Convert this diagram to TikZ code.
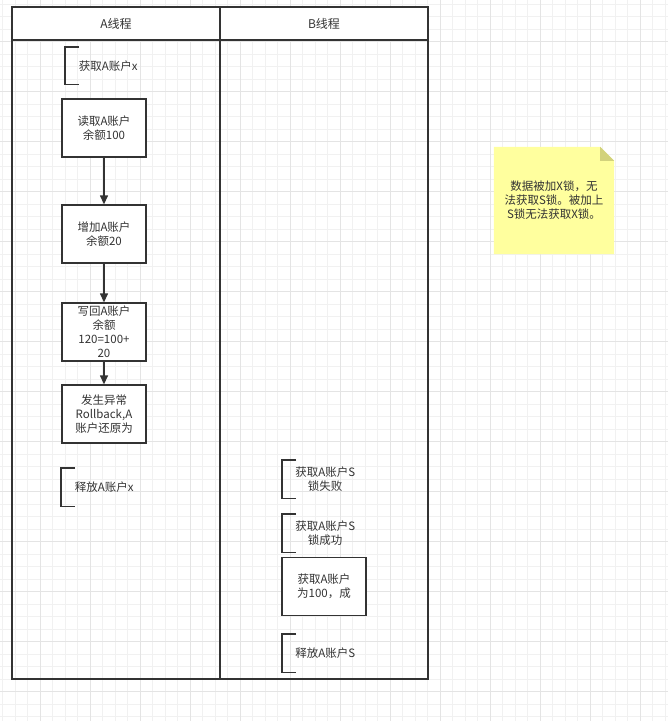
\documentclass[tikz,border=0pt]{standalone}
\usepackage{fontspec}
\setmainfont{Noto Sans CJK SC}
\usetikzlibrary{arrows.meta}
\definecolor{ink}{HTML}{333333}
\definecolor{gridminor}{HTML}{F1F1F1}
\definecolor{gridmajor}{HTML}{E4E4E4}
\definecolor{notefill}{HTML}{FFFF9E}
\definecolor{notefold}{HTML}{D2D27C}
\begin{document}
\begin{tikzpicture}[x=1pt, y=-1pt,
        every node/.style={text=ink, font=\fontsize{11.5}{14}\selectfont, align=center, inner sep=0pt},
        lanehead/.style={draw=ink, line width=1.3pt, fill=white, minimum width=208pt, minimum height=33pt, font=\fontsize{12}{14}\selectfont},
        lanebody/.style={draw=ink, line width=1.3pt, minimum width=208pt, minimum height=639pt},
        taskbox/.style={draw=ink, line width=1.3pt, fill=white, minimum width=84pt, minimum height=58pt},
        bracket/.style={anchor=north west, minimum width=86pt, minimum height=38pt},
        bracketline/.style={draw=ink, line width=1.3pt},
        flow/.style={draw=ink, line width=1.3pt, -{Triangle[length=9pt, width=8pt]}}]
    \useasboundingbox (0, 0) rectangle (668, 721);

    % background grid
    \begin{scope}
        \clip (0, 0) rectangle (668, 721);
        \foreach \x in {0, ..., 53}
            \draw[gridminor, line width=1pt] ({2.5 + 12.5*\x}, 0) -- ++(0, 721);
        \foreach \y in {0, ..., 57}
            \draw[gridminor, line width=1pt] (0, {4.2 + 12.5*\y}) -- ++(668, 0);
        \foreach \x in {0, ..., 12}
            \draw[gridmajor, line width=1pt] ({40 + 50*\x}, 0) -- ++(0, 721);
        \foreach \y in {0, ..., 13}
            \draw[gridmajor, line width=1pt] (0, {41.7 + 50*\y}) -- ++(668, 0);
    \end{scope}

    % lanes
    \node[lanebody] (laneA) at (116, 359.5) {};
    \node[lanebody] (laneB) at (324, 359.5) {};
    \node[lanehead] (headA) at (116, 23.5) {A线程};
    \node[lanehead] (headB) at (324, 23.5) {B线程};

    % A thread
    \node[bracket, minimum height=37pt] (getx) at (65, 47) {获取A账户x};
    \node[taskbox] (read) at (104, 128) {读取A账户\\余额100};
    \node[taskbox] (add) at (104, 234) {增加A账户\\余额20};
    \node[taskbox] (write) at (104, 332) {写回A账户\\余额\\120=100+\\20};
    \node[taskbox] (undo) at (104, 414) {发生异常\\Rollback,A\\账户还原为};
    \node[bracket] (relx) at (61, 468) {释放A账户x};

    \draw[flow] (read) -- (add);   %  read -- add
    \draw[flow] (add) -- (write);  %  add -- write
    \draw[flow] (write) -- (undo); %  write -- undo

    % B thread
    \node[bracket] (fails) at (282, 460) {获取A账户S\\锁失败};
    \node[bracket] (gets) at (282, 514) {获取A账户S\\锁成功};
    \node[taskbox] (readB) at (324, 586.5) {获取A账户\\为100，成};
    \node[bracket] (rels) at (282, 634) {释放A账户S};

    \foreach \n in {getx, relx, fails, gets, rels}
        \draw[bracketline] ([xshift=14pt]\n.north west) -- (\n.north west) -- (\n.south west) -- ([xshift=14pt]\n.south west);

    % note
    \node[minimum width=120pt, minimum height=107pt] (note) at (554, 200.5) {};
    \fill[notefill] (note.north west) -- ([xshift=-14pt]note.north east) -- ([yshift=-14pt]note.north east) -- (note.south east) -- (note.south west) -- cycle;
    \fill[notefold] ([xshift=-14pt]note.north east) -- ([xshift=-14pt, yshift=-14pt]note.north east) -- ([yshift=-14pt]note.north east) -- cycle;
    \node (notetext) at (note.center) {数据被加X锁，无\\法获取S锁。被加上\\S锁无法获取X锁。};
\end{tikzpicture}
\end{document}
